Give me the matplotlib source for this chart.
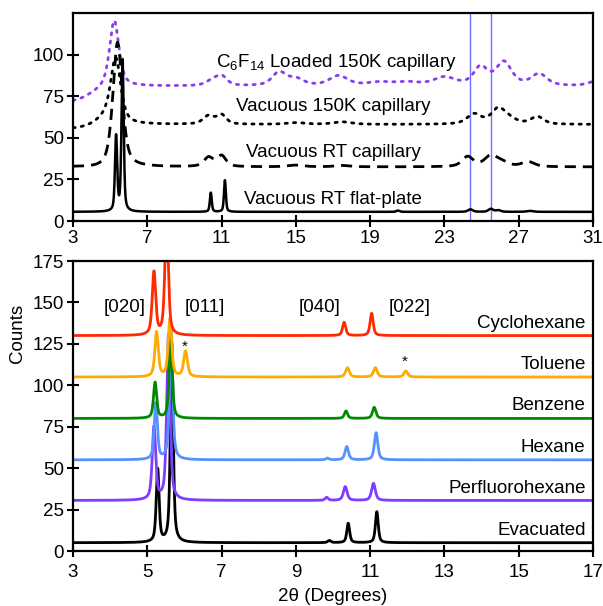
import numpy as np
import matplotlib
matplotlib.use("Agg")
import matplotlib.pyplot as plt

plt.rcParams['font.family'] = ['Liberation Sans', 'DejaVu Sans']
plt.rcParams['mathtext.fontset'] = 'custom'
plt.rcParams['mathtext.rm'] = 'Liberation Sans'
plt.rcParams['mathtext.it'] = 'Liberation Sans'

FS = 13.5

# ---------------- data: top panel (peak position, height, half width) ----------------
top_labels = ["Vacuous RT flat-plate", "Vacuous RT capillary",
              "Vacuous 150K capillary", "C$_6$F$_{14}$ Loaded 150K capillary"]
flat_base = 5.5
flat_pos = [5.32, 5.67, 10.42, 11.18, 20.5, 24.4, 25.5, 25.9, 27.6]
flat_h = [45, 91, 11.5, 19, 0.8, 1.5, 1.8, 1.0, 0.6]
flat_w = [0.07, 0.07, 0.06, 0.06, 0.1, 0.15, 0.15, 0.15, 0.2]

rtcap_base = 32.5
rtcap_pos = [4.8, 5.4, 10.3, 11.0, 15.0, 17.5, 24.25, 25.5, 26.1, 27.5]
rtcap_h = [-1.5, 76, 5.5, 6.5, 1.0, 0.8, 6.0, 6.5, 2.5, 3.0]
rtcap_w = [1.0, 0.3, 0.3, 0.28, 0.5, 0.5, 0.35, 0.4, 0.4, 0.4]

k150_base = 58.0
k150_step = -3.0
k150_pos = [4.8, 5.3, 10.3, 11.0, 15.0, 17.5, 24.6, 25.9, 26.5, 28.0]
k150_h = [4, 38, 5, 5.5, 1.0, 1.5, 6, 9, 2.5, 4.5]
k150_w = [0.6, 0.32, 0.35, 0.3, 0.6, 0.6, 0.45, 0.45, 0.5, 0.4]

c6_base = 81.0
c6_step = -10.0
c6_pos = [5.22, 10.5, 11.0, 14.1, 15.0, 17.3, 19.5, 21.0, 23.0, 24.95, 26.2, 28.1, 31.2]
c6_h = [40, 3, 5.5, 8, 4, 6, 2, 2, 5, 11, 14, 7, 3]
c6_w = [0.3, 0.4, 0.35, 0.45, 0.5, 0.6, 0.8, 0.8, 0.7, 0.45, 0.5, 0.5, 0.5]

ref_lines = [24.4, 25.5]

# ---------------- data: bottom panel ----------------
solvents = ["Cyclohexane", "Toluene", "Benzene", "Hexane", "Perfluorohexane", "Evacuated"]
bases = [130, 105, 80, 55, 30.5, 5]
peak_pos = [
    [5.18, 5.52, 10.30, 11.04],
    [5.25, 5.61, 6.03, 10.39, 11.14, 11.96],
    [5.21, 5.63, 10.35, 11.11],
    [5.23, 5.64, 9.85, 10.37, 11.16],
    [5.18, 5.57, 9.83, 10.33, 11.09],
    [5.28, 5.66, 9.90, 10.41, 11.18],
]
peak_h = [
    [38, 70, 8, 13.4],
    [27, 35, 15.5, 5.6, 5.6, 3.6],
    [21.6, 47, 4.5, 6.7],
    [34, 80, 1.0, 8, 16.4],
    [44, 100, 1.8, 8.3, 10.3],
    [44, 120, 1.3, 11.7, 18.7],
]
peak_w = [
    [0.055, 0.055, 0.05, 0.05],
    [0.055, 0.055, 0.06, 0.06, 0.06, 0.06],
    [0.05, 0.05, 0.05, 0.055],
    [0.05, 0.05, 0.05, 0.055, 0.055],
    [0.055, 0.055, 0.05, 0.06, 0.06],
    [0.045, 0.045, 0.05, 0.045, 0.045],
]
colors = ["#ff2a00", "#ffaa00", "#008a00", "#5592ff", "#7f3cff", "#000000"]
hkl_labels = ["[020]", "[011]", "[040]", "[022]"]
hkl_x = [4.4, 6.55, 9.65, 12.05]
hkl_y = 147
star_x = [6.0, 11.92]
star_y = [123, 114]


def pv(x, pos, h, w, eta=0.6):
    y = np.zeros_like(x)
    for p, a, ww in zip(pos, h, w):
        d = (x - p) / ww
        y += a * (eta / (1 + d ** 2) + (1 - eta) * np.exp(-np.log(2) * d ** 2))
    return y


def step(x, amount, x0=4.0, s=0.45):
    return amount / (1 + np.exp((x - x0) / s))


fig = plt.figure(figsize=(6.03, 6.06), dpi=100)
ax1 = fig.add_axes([73 / 603, 1 - 221 / 606, 520 / 603, 208 / 606])
ax2 = fig.add_axes([73 / 603, 1 - 551 / 606, 520 / 603, 290 / 606])

for ax in (ax1, ax2):
    for s in ax.spines.values():
        s.set_linewidth(1.6)
    ax.tick_params(direction='inout', length=9, width=1.5, labelsize=FS,
                   top=False, right=False, pad=2)
ax2.tick_params(axis='x', pad=5)

# top panel
xt = np.linspace(3, 31, 3000)
y_flat = flat_base + pv(xt, flat_pos, flat_h, flat_w, 0.5)
y_rt = rtcap_base + pv(xt, rtcap_pos, rtcap_h, rtcap_w)
y_150 = k150_base + step(xt, k150_step) + pv(xt, k150_pos, k150_h, k150_w)
y_c6 = c6_base + step(xt, c6_step) + pv(xt, c6_pos, c6_h, c6_w)

for v in ref_lines:
    ax1.axvline(v, color='#7070ff', lw=1.0, zorder=1)
ax1.plot(xt, y_c6, color='#8a3cf0', lw=2.0, ls=(0, (0.8, 2.2)), dash_capstyle='round')
ax1.plot(xt, y_150, color='black', lw=2.0, ls=(0, (0.8, 2.2)), dash_capstyle='round')
ax1.plot(xt, y_rt, color='black', lw=2.0, ls=(0, (4, 2.5)))
ax1.plot(xt, y_flat, color='black', lw=1.8)
ax1.set_xlim(3, 31)
ax1.set_ylim(0, 125)
ax1.set_xticks(np.arange(3, 32, 4))
ax1.set_yticks([0, 25, 50, 75, 100])

top_text_x = [12.2, 12.3, 11.8, 10.7]
top_text_y = [13, 41, 69, 95]
for t, tx, ty in zip(top_labels, top_text_x, top_text_y):
    ax1.text(tx, ty, t, fontsize=FS, ha='left', va='center')

# bottom panel (lower traces drawn first, upper traces on top)
xb = np.linspace(3, 17, 4000)
for name, b, pp, hh, ww, c in list(zip(solvents, bases, peak_pos, peak_h, peak_w, colors))[::-1]:
    y = b + pv(xb, pp, hh, ww)
    ax2.plot(xb, y, color=c, lw=2.0)
    ax2.text(16.8, b + 7.5, name, fontsize=FS, ha='right', va='center')

for t, hx in zip(hkl_labels, hkl_x):
    ax2.text(hx, hkl_y, t, fontsize=FS, ha='center', va='center')
for sx, sy in zip(star_x, star_y):
    ax2.text(sx, sy, "*", fontsize=11, ha='center', va='center')

ax2.set_xlim(3, 17)
ax2.set_ylim(0, 175)
ax2.set_xticks(np.arange(3, 18, 2))
ax2.set_yticks(np.arange(0, 176, 25))
ax2.set_ylabel("Counts", fontsize=FS)
ax2.yaxis.set_label_coords(-0.09, 0.75)
ax2.set_xlabel("2θ (Degrees)", fontsize=FS, labelpad=5)

fig.savefig("out.png", dpi=100)
